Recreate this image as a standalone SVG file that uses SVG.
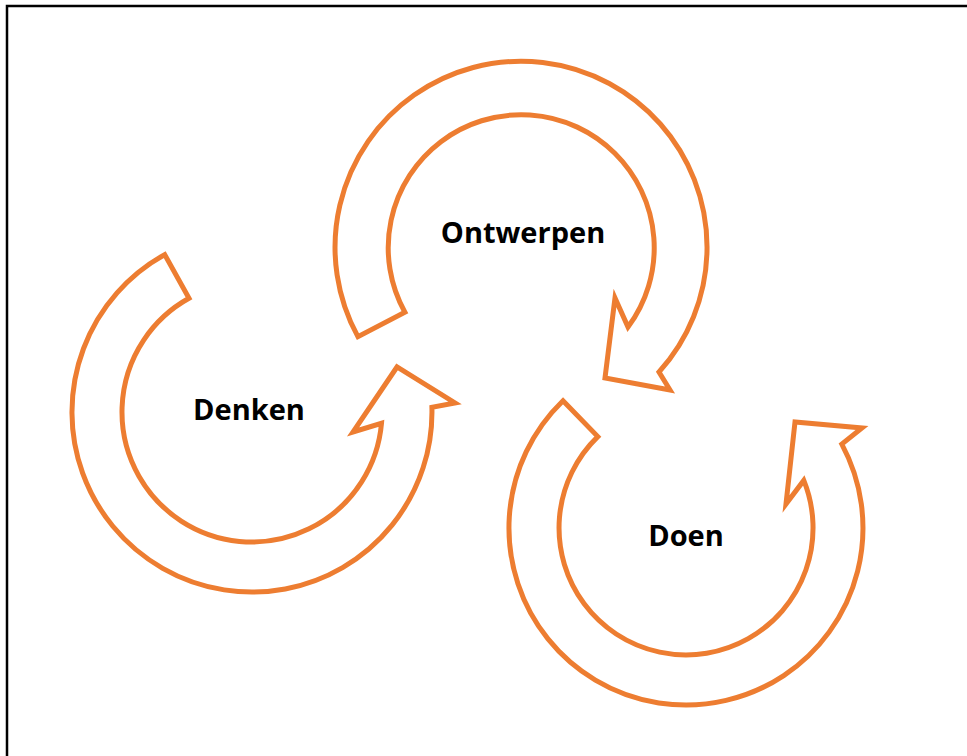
<svg xmlns="http://www.w3.org/2000/svg" width="967" height="756" viewBox="0 0 967 756">
<style>
.arrow{fill:none;stroke:#ED7D31;stroke-width:5;stroke-linejoin:miter}
.lbl{font-family:"Open Sans","Liberation Sans",sans-serif;font-weight:bold;font-size:29px;fill:#000;text-anchor:middle}
</style>
<rect x="7" y="6" width="990" height="790" fill="#fff" stroke="#000" stroke-width="2.5"/>
<g id="connectors">
<path id="arrow-denken" class="arrow" d="M164.7,254.6 A180,180 0 1 0 431.9,407.3 L455,403 L397,367 L353,432 L381.5,423.3 A130,130 0 1 1 189,298.3 Z"/>
<path id="arrow-ontwerpen" class="arrow" d="M357.9,336.6 A186,186 0 1 1 659,372 L670,390 L605,378 L615,298 L628,327 A133,133 0 1 0 404.9,312.2 Z"/>
<path id="arrow-doen" class="arrow" d="M563,400.7 A177,177 0 1 0 841.8,444.1 L862,428 L795,422 L786,504 L803.8,480.4 A127,127 0 1 1 597.8,436.6 Z"/>
</g>
<g id="denken"><text class="lbl" x="249" y="420">Denken</text></g>
<g id="ontwerpen"><text class="lbl" x="523" y="243">Ontwerpen</text></g>
<g id="doen"><text class="lbl" x="686" y="546">Doen</text></g>
</svg>
